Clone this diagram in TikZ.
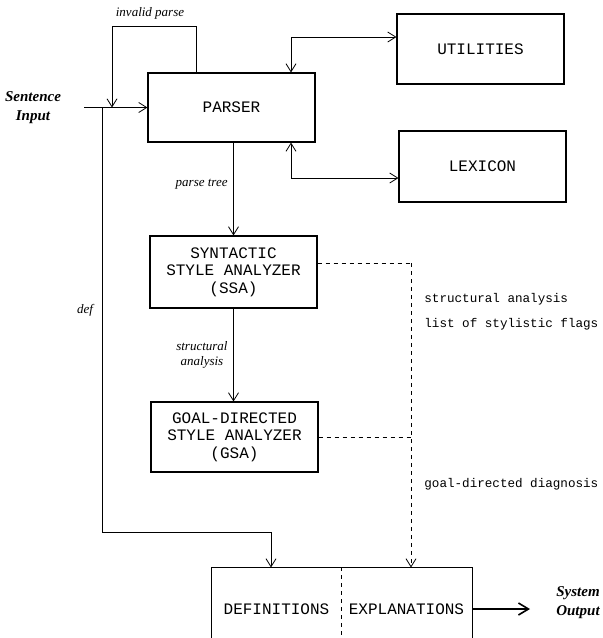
\documentclass[tikz,border=0pt]{standalone}
\usepackage{fontspec}
\setmainfont{Liberation Serif}
\setmonofont{Liberation Mono}
\usetikzlibrary{arrows.meta}
\begin{document}
\begin{tikzpicture}[
x=0.5pt,y=-0.5pt,
thin,
box/.style={draw,line width=0.55pt,minimum width=83.5pt,align=center,inner sep=0pt,font=\fontsize{8}{8.75}\selectfont\ttfamily},
lbl/.style={font=\fontsize{6.5}{7.5}\selectfont\itshape,align=center,inner sep=1pt},
io/.style={font=\fontsize{7.5}{9.5}\selectfont\bfseries\itshape,align=center},
note/.style={font=\fontsize{6.3}{7}\selectfont\ttfamily,anchor=west,inner sep=0pt},
arr/.style={-{Straight Barb[length=4pt,width=5pt]}},
dbl/.style={{Straight Barb[length=4pt,width=5pt]}-{Straight Barb[length=4pt,width=5pt]}},
dsh/.style={dash pattern=on 2pt off 2pt}
]
\clip (0,0) rectangle (603,638);

\node[box,minimum height=34.5pt] (1) at (231.5,107.5) {PARSER};
\node[box,minimum height=35pt] (2) at (480.5,49) {UTILITIES};
\node[box,minimum height=35.5pt] (3) at (482.5,166.5) {LEXICON};
\node[box,minimum height=36pt] (4) at (233.5,272) {SYNTACTIC\\STYLE ANALYZER\\(SSA)};
\node[box,minimum height=35pt] (5) at (234.5,437) {GOAL-DIRECTED\\STYLE ANALYZER\\(GSA)};
\node[box,draw=none,minimum width=64.5pt,minimum height=41pt] (6) at (276.5,609) {DEFINITIONS};
\node[box,draw=none,minimum width=65.5pt,minimum height=41pt] (7) at (406.5,609) {EXPLANATIONS};
\draw[line width=0.55pt] (6.north west) rectangle (7.south east);
\draw[dsh] (6.north east) -- (6.south east);

\node[io] (8) at (33,108) {Sentence\\Input};
\node[io] (9) at (578,603) {System\\Output};

\coordinate (a) at (84,107.5);
\coordinate (b) at (196,26);
\coordinate (c) at (112,26);
\coordinate (d) at (291,37);
\coordinate (e) at (291,178);
\coordinate (f) at (411,263);
\coordinate (g) at (102,107.5);
\coordinate (h) at (271,532);
\coordinate (k) at (530,0);

\draw (a) -- (g);
\draw[arr] (g) -- (1.west);
\draw[arr] (1.north -| b) -- (b) -- (c) -- (c |- 1.west);
\node[lbl] (10) at (150,13) {invalid parse};
\draw[dbl] (1.north -| d) |- (2.west |- d);
\draw[dbl] (1.south -| e) |- (3.west |- e);

\draw[arr] (1.south -| 4.north) -- (4.north);
\node[lbl,anchor=east] (11) at (230,184) {parse tree};
\draw[arr] (4.south) -- (4.south |- 5.north);
\node[lbl,anchor=east] (12) at (230,355) {structural\\analysis};

\draw[arr] (g) |- (h) -- (h |- 6.north);
\node[lbl] (13) at (85,310) {def};

\draw[dsh] (4.east |- f) -- (f);
\draw[dsh] (5.east) -- (5.east -| f);
\draw[dsh,arr] (f) -- (f |- 7.north);
\node[note] (14) at (424,299) {structural analysis};
\node[note] (15) at (424,324) {list of stylistic flags};
\node[note] (16) at (424,484) {goal-directed diagnosis};

\draw[thick,-{Straight Barb[length=5pt,width=6pt]}] (7.east) -- (7.east -| k);
\end{tikzpicture}
\end{document}
